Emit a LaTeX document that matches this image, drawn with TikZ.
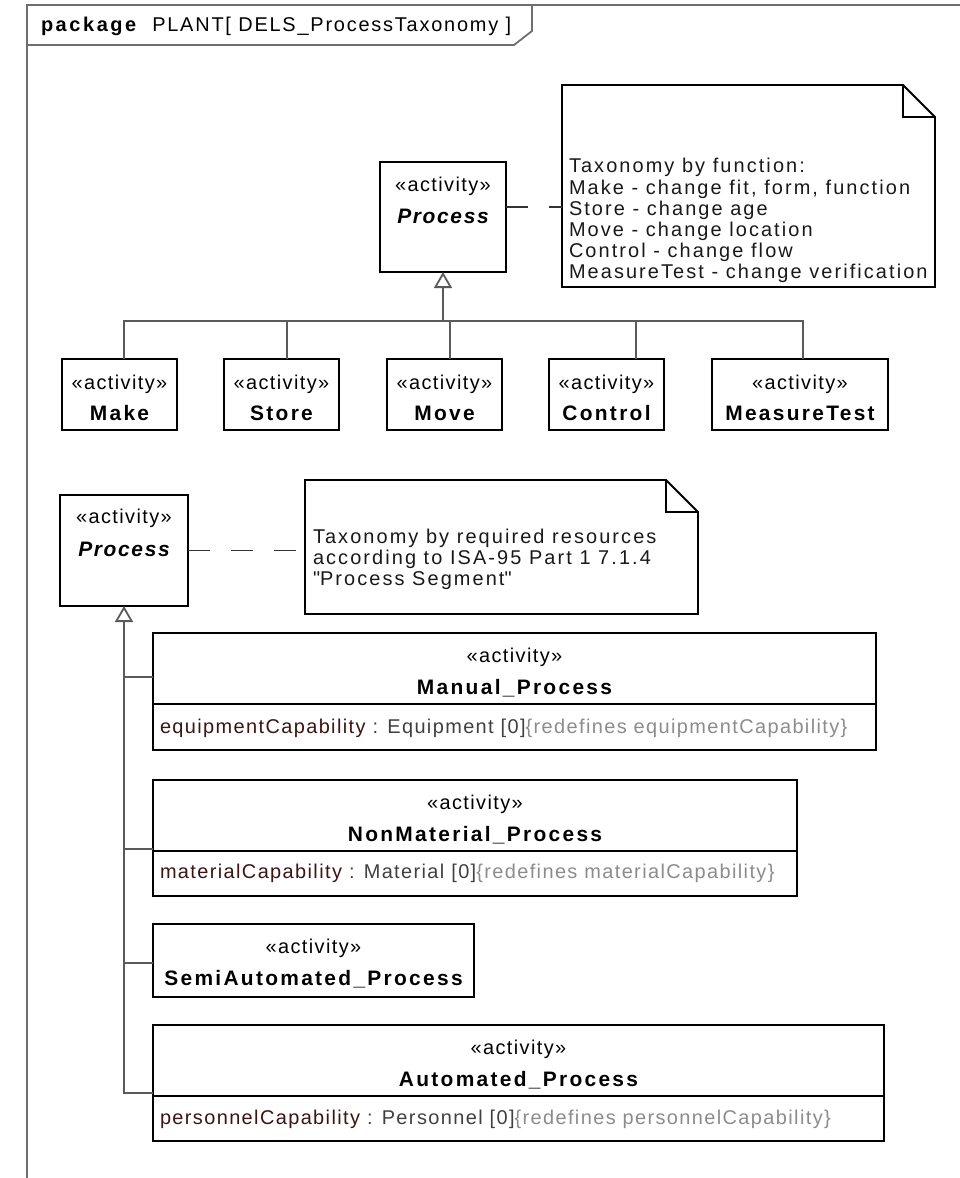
\documentclass[tikz,border=0pt]{standalone}
\usepackage{fontspec}
\setmainfont{Liberation Sans}[LetterSpace=7]
\usetikzlibrary{arrows.meta}
\definecolor{frameline}{HTML}{6E6E6E}
\definecolor{genline}{HTML}{5A5A5A}
\definecolor{attrname}{HTML}{3C1414}
\definecolor{attrtype}{HTML}{404040}
\definecolor{redef}{HTML}{8C8C8C}
\newcommand{\dfont}{\fontsize{20}{21.2}\selectfont}
\newcommand{\dbold}{\fontsize{21}{22}\selectfont\bfseries\addfontfeature{LetterSpace=11}}
\newcommand{\stereotxt}{«activity»}

\begin{document}
\begin{tikzpicture}[x=1bp, y=-1bp,
  every node/.style={inner sep=0pt, outer sep=0pt},
  clsbox/.style={draw=black, line width=1.8bp, fill=white, anchor=north west},
  stereo/.style={font=\dfont, anchor=base, text=black},
  cname/.style={font=\dbold, anchor=base, text=black},
  absname/.style={font=\fontsize{21}{22}\selectfont\bfseries\itshape\addfontfeature{LetterSpace=8}, anchor=base, text=black},
  attr/.style={font=\dfont, anchor=base west},
  notebody/.style={anchor=north west},
  noteline/.style={draw=black, line width=1.8bp},
  notetext/.style={font=\dfont\addfontfeature{LetterSpace=10.5}, anchor=north west, align=left, text=black!90},
  gen/.style={draw=genline, line width=1.8bp},
  gentip/.style={gen, -{Triangle[open, length=16bp, width=18bp]}},
  notelink/.style={draw=black!80, line width=1.8bp, dash pattern=on 22bp off 21bp},
  divider/.style={draw=black, line width=1.8bp},
  pkgframe/.style={draw=frameline, line width=1.8bp}]

\useasboundingbox[fill=white] (0,0) rectangle (960,1178);

% package frame and its name tab
\draw[pkgframe] (27,1178) -- (27,5) -- (960,5);
\draw[pkgframe] (27,45) -- (514,45) -- (532,31) -- (532,5);
\node[anchor=base west, font=\dfont\addfontfeature{LetterSpace=9}] (pkglabel) at (41,31)
  {{\bfseries\addfontfeature{LetterSpace=13}package}\hspace{16bp}PLANT[ DELS\_ProcessTaxonomy ]};

% ---------- taxonomy by function ----------
\node[clsbox, minimum width=126bp, minimum height=110bp] (proc1) at (380,162) {};
\node[stereo] (proc1st) at (443,191) {\stereotxt};
\node[absname] (proc1nm) at (443,223) {Process};

\node[notebody, minimum width=373bp, minimum height=202bp] (note1) at (562,85) {};
\draw[noteline] (note1.north west) -- ([xshift=-32bp]note1.north east)
  -- ([yshift=-32bp]note1.north east) -- (note1.south east)
  -- (note1.south west) -- cycle;
\draw[noteline] ([xshift=-32bp]note1.north east) |- ([yshift=-32bp]note1.north east);
\node[notetext] (note1txt) at (569,158.5) {Taxonomy by function:\\
  Make - change fit, form, function\\
  Store - change age\\
  Move - change location\\
  Control - change flow\\
  MeasureTest - change verification};
\draw[notelink] ([yshift=10bp]proc1.east) -- ([yshift=10bp]proc1.east -| note1.west);

% sub-activities
\node[clsbox, minimum width=115bp, minimum height=71bp] (make) at (62,359) {};
\node[clsbox, minimum width=115bp, minimum height=71bp] (store) at (224,359) {};
\node[clsbox, minimum width=115bp, minimum height=71bp] (move) at (387,359) {};
\node[clsbox, minimum width=115bp, minimum height=71bp] (control) at (549,359) {};
\node[clsbox, minimum width=176bp, minimum height=71bp] (mtest) at (712,359) {};
\foreach \n/\t in {make/Make, store/Store, move/Move, control/Control, mtest/MeasureTest}{
  \node[stereo] (\n st) at ([yshift=-30bp]\n.north) {\stereotxt};
  \node[cname] (\n nm) at ([yshift=-61bp]\n.north) {\t};
}

% generalization tree
\coordinate (bus) at (443,321);
\draw[gentip] (bus) -- (proc1.south);
\draw[gen] ([xshift=4.5bp]make.north) |- (bus);
\draw[gen] ([xshift=5.5bp]store.north) |- (bus);
\draw[gen] ([xshift=5.5bp]move.north) |- (bus);
\draw[gen] ([xshift=29.5bp]control.north) |- (bus);
\draw[gen] ([xshift=3bp]mtest.north) |- (bus);

% ---------- taxonomy by required resources ----------
\node[clsbox, minimum width=128bp, minimum height=111bp] (proc2) at (60,495) {};
\node[stereo] (proc2st) at ([yshift=-28bp]proc2.north) {\stereotxt};
\node[absname] (proc2nm) at ([yshift=-61bp]proc2.north) {Process};

\node[notebody, minimum width=393bp, minimum height=134bp] (note2) at (305,480) {};
\draw[noteline] (note2.north west) -- ([xshift=-32bp]note2.north east)
  -- ([yshift=-32bp]note2.north east) -- (note2.south east)
  -- (note2.south west) -- cycle;
\draw[noteline] ([xshift=-32bp]note2.north east) |- ([yshift=-32bp]note2.north east);
\node[notetext] (note2txt) at (313,529) {Taxonomy by required resources\\
  according to ISA-95 Part 1 7.1.4\\
  \textquotedbl Process Segment\textquotedbl};
\draw[notelink] (proc2.east) -- (proc2.east -| note2.west);

% specialised processes
\node[clsbox, minimum width=723bp, minimum height=117bp] (manual) at (153,633) {};
\node[clsbox, minimum width=644bp, minimum height=116bp] (nonmat) at (153,780) {};
\node[clsbox, minimum width=321bp, minimum height=73bp] (semi) at (153,924) {};
\node[clsbox, minimum width=731bp, minimum height=116bp] (auto) at (153,1025) {};

\foreach \n/\t in {manual/Manual\_Process, nonmat/NonMaterial\_Process,
                   semi/SemiAutomated\_Process, auto/Automated\_Process}{
  \node[stereo] (\n st) at ([yshift=-29bp]\n.north) {\stereotxt};
  \node[cname] (\n nm) at ([yshift=-61bp]\n.north) {\t};
}
\foreach \n in {manual, nonmat, auto}{
  \draw[divider] ([yshift=-71bp]\n.north west) -- ([yshift=-71bp]\n.north east);
}

\node[attr] (manattr) at (160,733) {\textcolor{attrname}{equipmentCapability}
  \textcolor{attrtype}{: Equipment [0]}\textcolor{redef}{\{redefines equipmentCapability\}}};
\node[attr] (nonattr) at (160,878) {\textcolor{attrname}{materialCapability}
  \textcolor{attrtype}{: Material [0]}\textcolor{redef}{\{redefines materialCapability\}}};
\node[attr] (autoattr) at (160,1124) {\textcolor{attrname}{personnelCapability}
  \textcolor{attrtype}{: Personnel [0]}\textcolor{redef}{\{redefines personnelCapability\}}};

% generalization tree
\coordinate (trunk) at (124,1093);
\coordinate (jman) at (124,677);
\coordinate (jnon) at (124,849);
\coordinate (jsemi) at (124,963);
\draw[gentip] (auto.west |- trunk) -- (trunk) -- (proc2.south);
\draw[gen] (manual.west |- jman) -- (jman);
\draw[gen] (nonmat.west |- jnon) -- (jnon);
\draw[gen] (semi.west |- jsemi) -- (jsemi);
\end{tikzpicture}
\end{document}
